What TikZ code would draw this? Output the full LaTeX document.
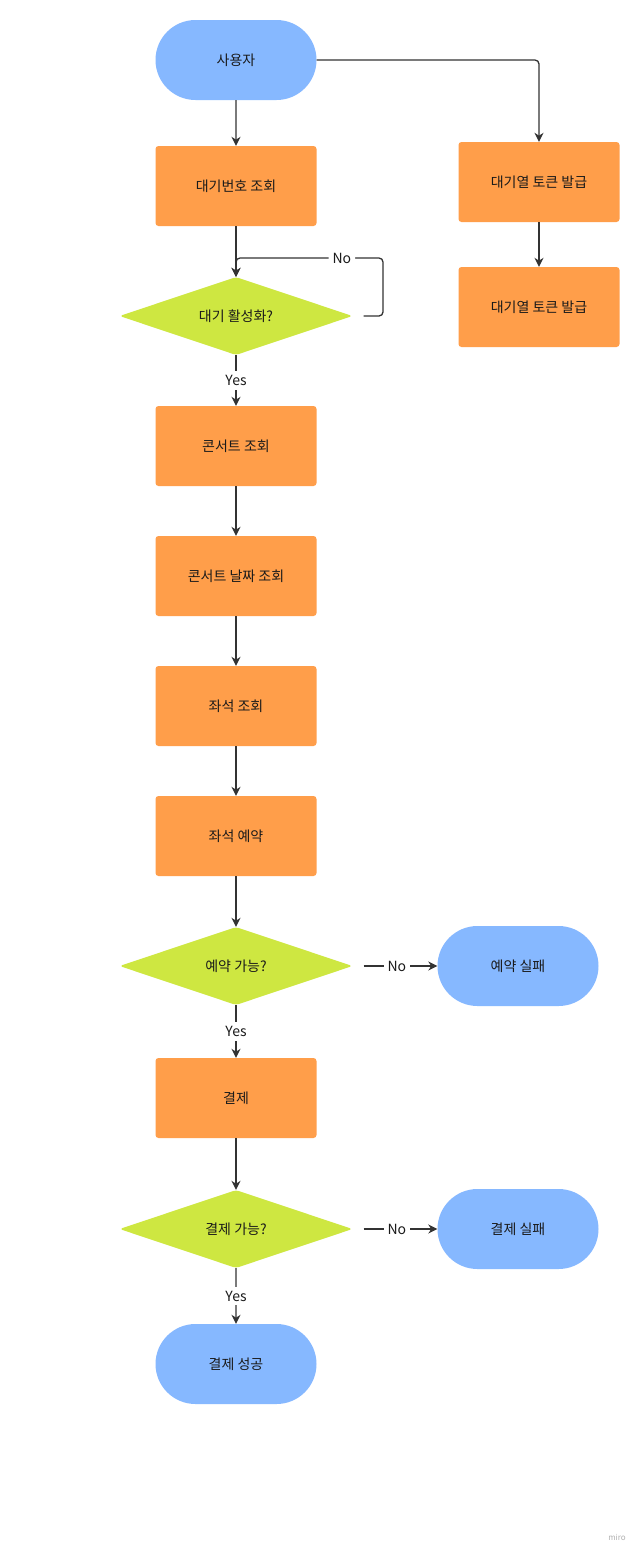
\documentclass[tikz,border=0pt]{standalone}
\usepackage{fontspec}
\setmainfont{Noto Sans CJK KR}
\usetikzlibrary{shapes.geometric,shapes.misc,arrows.meta}
\definecolor{termblue}{HTML}{86B8FF}
\definecolor{procorange}{HTML}{FF9E4A}
\definecolor{decgreen}{HTML}{CEE741}
\definecolor{linegray}{HTML}{333333}
\definecolor{textdark}{HTML}{1A1A1A}
\begin{document}
\begin{tikzpicture}[x=1pt,y=-1pt,
  basefont/.style={font=\fontsize{14}{16}\selectfont, text=textdark},
  proc/.style={basefont, rectangle, rounded corners=3pt, fill=procorange, minimum width=161pt, minimum height=80pt, inner sep=0pt},
  term/.style={basefont, rounded rectangle, fill=termblue, minimum width=161pt, minimum height=80pt, inner sep=0pt},
  dec/.style={basefont, diamond, aspect=3, fill=decgreen, minimum width=233pt, minimum height=78pt, inner sep=0pt, rounded corners=3pt},
  conn/.style={draw=linegray, line width=1.3pt, -{Stealth[length=9pt,width=9pt]}},
  lbl/.style={basefont, fill=white, inner sep=4pt}]
\useasboundingbox[fill=white] (0,0) rectangle (642,1556);

\node[term] (user) at (236,60) {사용자};
\node[proc] (wait) at (236,186) {대기번호 조회};
\node[dec]  (act) at (236,316) {대기 활성화?};
\node[proc] (concert) at (236,446) {콘서트 조회};
\node[proc] (date) at (236,576) {콘서트 날짜 조회};
\node[proc] (seat) at (236,706) {좌석 조회};
\node[proc] (reserve) at (236,836) {좌석 예약};
\node[dec]  (canres) at (236,966) {예약 가능?};
\node[term] (resfail) at (518,966) {예약 실패};
\node[proc] (pay) at (236,1098) {결제};
\node[dec]  (canpay) at (236,1229) {결제 가능?};
\node[term] (payfail) at (518,1229) {결제 실패};
\node[term] (payok) at (236,1364) {결제 성공};
\node[proc] (tok1) at (539,182) {대기열 토큰 발급};
\node[proc] (tok2) at (539,307) {대기열 토큰 발급};

\coordinate (actR) at ([xshift=11pt]act.east);
\coordinate (loopA) at (383,316);
\coordinate (loopB) at (383,258);
\coordinate (loopC) at (236,258);
\coordinate (resR) at ([xshift=11pt]canres.east);
\coordinate (payR) at ([xshift=11pt]canpay.east);

\draw[conn] (user) -- (wait);
\draw[conn, rounded corners=4pt] (user.east) -| (tok1.north);
\draw[conn] (tok1) -- (tok2);
\draw[conn] (wait) -- (act.north);
\draw[conn, rounded corners=4pt] (actR) -- (loopA) -- (loopB) -- node[lbl, pos=0.28] {No} (loopC) -- (act.north);
\draw[conn] (act.south) -- node[lbl] {Yes} (concert);
\draw[conn] (concert) -- (date);
\draw[conn] (date) -- (seat);
\draw[conn] (seat) -- (reserve);
\draw[conn] (reserve) -- (canres.north);
\draw[conn] (resR) -- node[lbl, pos=0.45] {No} (resfail.west);
\draw[conn] (canres.south) -- node[lbl] {Yes} (pay);
\draw[conn] (pay) -- (canpay.north);
\draw[conn] (payR) -- node[lbl, pos=0.45] {No} (payfail.west);
\draw[conn] (canpay.south) -- node[lbl] {Yes} (payok);

\node[text=black!30, font=\fontsize{8}{9}\selectfont] (miro) at (617,1537) {miro};
\end{tikzpicture}
\end{document}
